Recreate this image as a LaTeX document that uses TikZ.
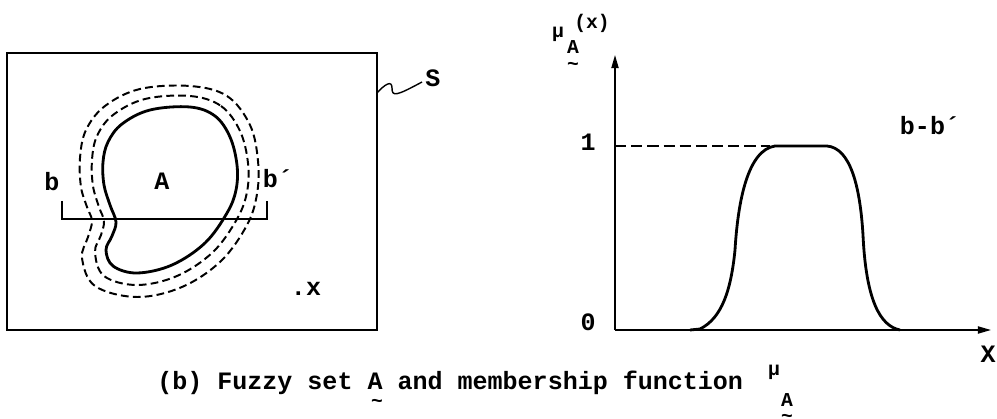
\documentclass[tikz,border=0pt]{standalone}
\usepackage{fontspec}
\setmonofont{Liberation Mono}
\usetikzlibrary{arrows.meta}

\begin{document}
\begin{tikzpicture}[x=0.025cm, y=-0.025cm,
    every node/.style={font=\ttfamily\bfseries\fontsize{17.8}{19}\selectfont, inner sep=0pt},
    small/.style={font=\ttfamily\bfseries\fontsize{14}{16}\selectfont},
    fuzzy/.style={line width=1.4pt, dash pattern=on 5.5pt off 3pt},
    crisp/.style={line width=2pt}]
    \useasboundingbox (0,0) rectangle (997,419);

    % universe S
    \draw[line width=1.8pt] (7,53) rectangle (377,330);
    \coordinate (sroot) at (377,93);
    \node (S) at (433,78) {S};
    \draw[line width=1pt] (sroot) .. controls (385,84) and (392,80) .. (392,88)
        .. controls (392,97) and (396,96) .. (422,82);

    % set A and its fuzzy boundary
    \draw[crisp] plot[smooth cycle, tension=0.6] coordinates {
        (190,107) (215,116) (230,137) (237,165) (236,190) (227,213) (205,243)
        (172,265) (137,273) (113,266) (106,250) (112,236) (116,222) (110,205)
        (104,185) (103,162) (108,142) (122,124) (150,110)};
    \draw[fuzzy] plot[smooth cycle, tension=0.6] coordinates {
        (190,96) (221,106) (240,131) (248,163) (247,192) (237,219) (213,252)
        (177,276) (137,285) (104,276) (95,252) (101,235) (104,221) (99,207)
        (93,186) (92,160) (97,136) (113,115) (145,99)};
    \draw[fuzzy] plot[smooth cycle, tension=0.6] coordinates {
        (190,86) (227,96) (250,125) (258,161) (257,194) (247,225) (221,261)
        (182,287) (137,297) (95,286) (82,258) (88,237) (92,221) (87,207)
        (81,187) (80,158) (86,130) (105,106) (140,89)};

    % cut b-b'
    \coordinate (bl) at (62,201);
    \coordinate (br) at (267,201);
    \draw[line width=1.2pt] (bl) -- ++(0,18) -| (br);
    \node (b) at (52,182) {b};
    \node (A) at (162,181) {A};
    \node (bp) at (278,179) {b´};
    \node (x) at (306,289) {.x};

    % membership function along b-b'
    \coordinate (o) at (615,330);
    \coordinate (ytop) at (615,55);
    \coordinate (xend) at (991,330);
    \draw[line width=1.1pt, -{Triangle[length=0.33cm, width=0.18cm]}] (o) -- (ytop);
    \draw[line width=1.1pt, -{Triangle[length=0.33cm, width=0.18cm]}] (o) -- (xend);
    \node (one) at (588,142) {1};
    \node (zero) at (588,322) {0};
    \node (X) at (988,354) {X};
    \node (bb) at (930,126) {b-b´};
    \draw[line width=1.2pt, dash pattern=on 8pt off 3.5pt] (615,146) -- (770,146);
    \draw[crisp] (690,330) -- (700,329) .. controls (722,318) and (731,290) .. (735,250)
        .. controls (738,200) and (748,150) .. (775,146) -- (827,146)
        .. controls (850,148) and (860,185) .. (863,235)
        .. controls (866,300) and (880,326) .. (900,330);

    % axis label
    \node[small] (mu) at (558,34) {μ};
    \node[small] (muA) at (573,47) {A};
    \node[small] (muT) at (573,66) {\char`\~};
    \node[small] (mux) at (592,23) {(x)};

    % caption
    \node[anchor=base west] (cap) at (157,389)
        {(b) Fuzzy set A and membership function};
    \node[small] at (377,403) {\char`\~};
    \node[small] (capmu) at (774,372) {μ};
    \node[small] (capmuA) at (787,400) {A};
    \node[small] at (787,418) {\char`\~};
\end{tikzpicture}
\end{document}
